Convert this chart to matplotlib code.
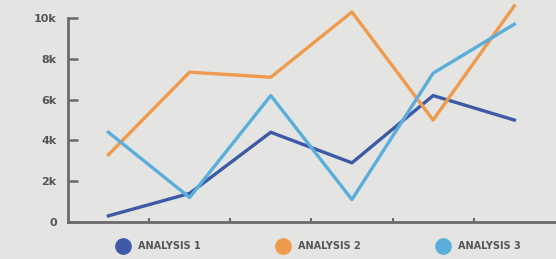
import matplotlib.pyplot as plt
from matplotlib.lines import Line2D

categories = ["1", "2", "3", "4", "5", "6"]
analysis_1 = [300, 1400, 4400, 2900, 6200, 5000]
analysis_2 = [3300, 7350, 7100, 10300, 5000, 10600]
analysis_3 = [4400, 1200, 6200, 1100, 7300, 9700]
series_names = ["ANALYSIS 1", "ANALYSIS 2", "ANALYSIS 3"]
y_ticks = [0, 2000, 4000, 6000, 8000, 10000]
y_labels = ["0", "2k", "4k", "6k", "8k", "10k"]

colors = ["#3d5aa6", "#ef9a4c", "#5aaedb"]
bg = "#e4e4e2"

fig = plt.figure(figsize=(5.56, 2.59), dpi=100, facecolor=bg)
ax = fig.add_axes([0.122, 0.143, 0.876, 0.787], facecolor=bg)

xs = [i + 0.5 for i in range(len(categories))]
for vals, c in zip([analysis_1, analysis_2, analysis_3], colors):
    ax.plot(xs, vals, color=c, lw=2.4, clip_on=False)

ax.set_xlim(0, len(categories))
ax.set_ylim(0, 10000)
ax.set_xticks(range(1, len(categories)))
ax.set_xticklabels([])
ax.set_yticks(y_ticks)
ax.set_yticklabels(y_labels, fontsize=8, fontweight="bold", color="#555555")

for side in ["top", "right"]:
    ax.spines[side].set_visible(False)
for side in ["left", "bottom"]:
    ax.spines[side].set_color("#6a6a6a")
    ax.spines[side].set_linewidth(2)
ax.tick_params(axis="y", direction="in", length=7, width=1.8, color="#6a6a6a", pad=8)
ax.tick_params(axis="x", direction="in", length=3, width=1.5, color="#6a6a6a")

handles = [Line2D([], [], marker="o", ls="none", markersize=11, color=c) for c in colors]
leg = fig.legend(handles, series_names, loc="center", bbox_to_anchor=(0.57, 0.05),
                 ncol=3, frameon=False, handletextpad=0.5, columnspacing=7.5,
                 prop={"size": 7, "weight": "bold"})
for t in leg.get_texts():
    t.set_color("#555555")

fig.savefig("out.png", dpi=100, facecolor=bg)
